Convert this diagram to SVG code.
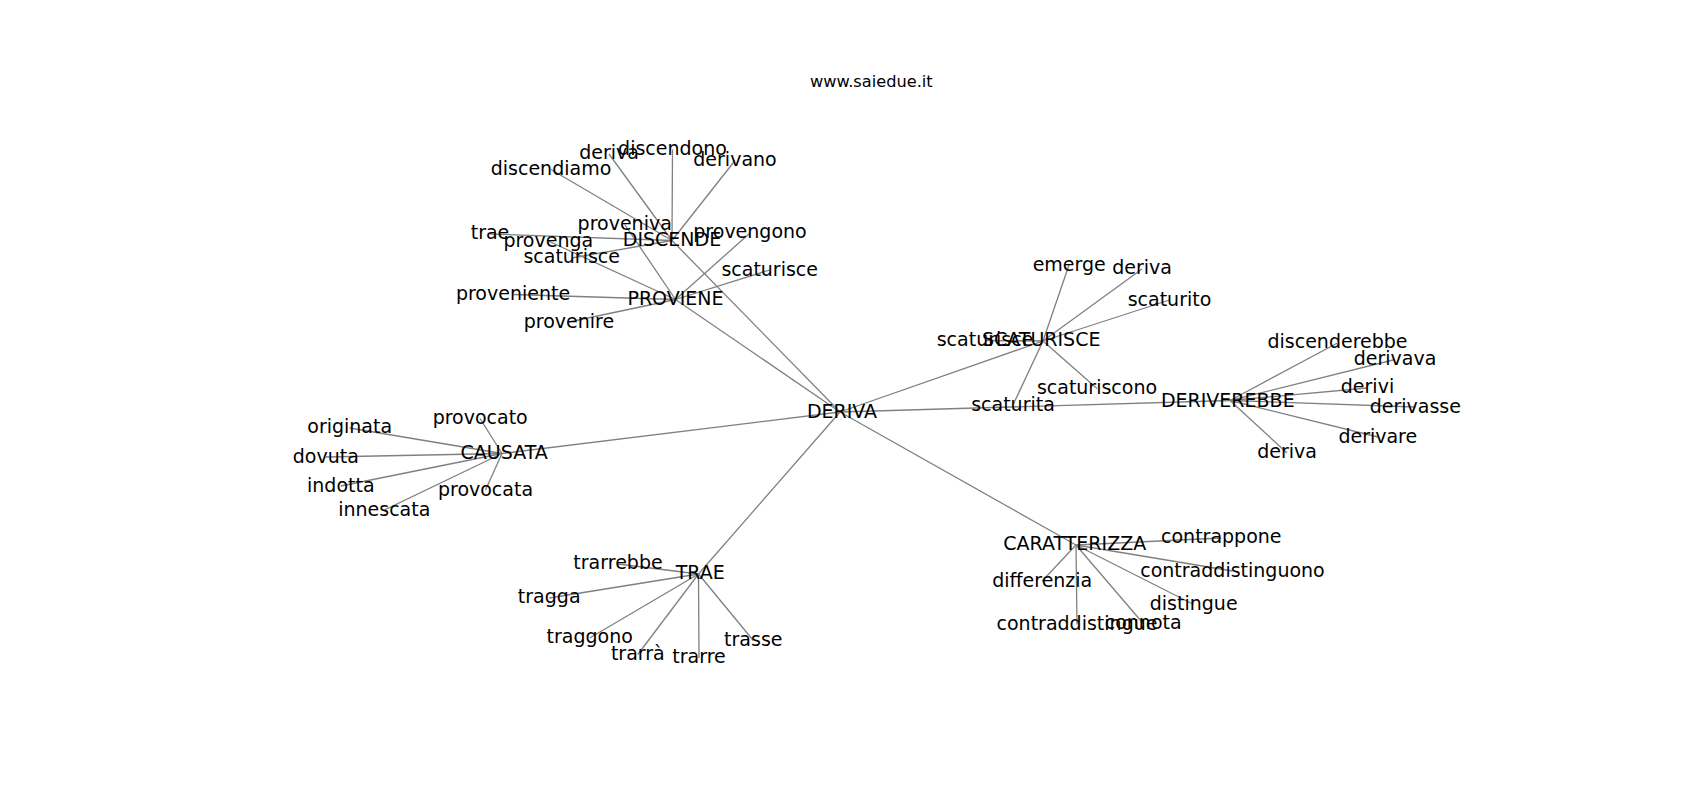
<svg xmlns="http://www.w3.org/2000/svg" width="1700" height="800" viewBox="0 0 1700 800">
<style>
.bg{fill:#ffffff}
.e line{stroke:#808080;stroke-width:1.3;fill:none}
text{font-family:"DejaVu Sans","Liberation Sans",sans-serif;fill:#000000;text-anchor:middle}
.n text{font-size:19px}
.t{font-size:16.2px}
</style>
<rect class="bg" x="0" y="0" width="1700" height="800"/>
<g id="connectors" class="e">
<line x1="840" y1="412" x2="672" y2="240.5"/>
<line x1="840" y1="412" x2="675.5" y2="299.5"/>
<line x1="840" y1="412" x2="502" y2="453.5"/>
<line x1="840" y1="412" x2="698.5" y2="574"/>
<line x1="840" y1="412" x2="1043" y2="341"/>
<line x1="840" y1="412" x2="1230" y2="400.5"/>
<line x1="840" y1="412" x2="1076" y2="545"/>
<line x1="672" y1="240.5" x2="672.5" y2="149.5"/>
<line x1="672" y1="240.5" x2="609" y2="154"/>
<line x1="672" y1="240.5" x2="735" y2="160.5"/>
<line x1="672" y1="240.5" x2="551" y2="169.5"/>
<line x1="672" y1="240.5" x2="490" y2="234"/>
<line x1="672" y1="240.5" x2="571.7" y2="258"/>
<line x1="675.5" y1="299.5" x2="624.7" y2="224.5"/>
<line x1="675.5" y1="299.5" x2="548.3" y2="241"/>
<line x1="675.5" y1="299.5" x2="750" y2="233"/>
<line x1="675.5" y1="299.5" x2="513" y2="294.5"/>
<line x1="675.5" y1="299.5" x2="569" y2="322"/>
<line x1="675.5" y1="299.5" x2="769.7" y2="270"/>
<line x1="502" y1="453.5" x2="480" y2="418.5"/>
<line x1="502" y1="453.5" x2="349.7" y2="428"/>
<line x1="502" y1="453.5" x2="325.8" y2="457"/>
<line x1="502" y1="453.5" x2="340.8" y2="486"/>
<line x1="502" y1="453.5" x2="485.5" y2="490"/>
<line x1="502" y1="453.5" x2="384.3" y2="510"/>
<line x1="698.5" y1="574" x2="618" y2="564"/>
<line x1="698.5" y1="574" x2="549.2" y2="598"/>
<line x1="698.5" y1="574" x2="589.7" y2="638"/>
<line x1="698.5" y1="574" x2="637.8" y2="654.5"/>
<line x1="698.5" y1="574" x2="699" y2="658"/>
<line x1="698.5" y1="574" x2="753.3" y2="640.5"/>
<line x1="1043" y1="341" x2="1069" y2="265"/>
<line x1="1043" y1="341" x2="1142" y2="269"/>
<line x1="1043" y1="341" x2="1169.5" y2="300"/>
<line x1="1043" y1="341" x2="985" y2="340.5"/>
<line x1="1043" y1="341" x2="1097" y2="388.5"/>
<line x1="1043" y1="341" x2="1013" y2="405"/>
<line x1="1230" y1="400.5" x2="1337.5" y2="343"/>
<line x1="1230" y1="400.5" x2="1395" y2="359.5"/>
<line x1="1230" y1="400.5" x2="1367.5" y2="388"/>
<line x1="1230" y1="400.5" x2="1415.3" y2="407"/>
<line x1="1230" y1="400.5" x2="1377.8" y2="437"/>
<line x1="1230" y1="400.5" x2="1287" y2="453"/>
<line x1="1076" y1="545" x2="1221.3" y2="538"/>
<line x1="1076" y1="545" x2="1232.5" y2="571"/>
<line x1="1076" y1="545" x2="1042.2" y2="581"/>
<line x1="1076" y1="545" x2="1193.7" y2="604.5"/>
<line x1="1076" y1="545" x2="1077" y2="624.5"/>
<line x1="1076" y1="545" x2="1143.2" y2="623.5"/>
</g>
<text class="t" x="871.3" y="87.3">www.saiedue.it</text>
<g class="n">
<g id="n-deriva-center"><text x="842" y="418">DERIVA</text></g>
<g id="n-discende"><text x="672" y="246">DISCENDE</text></g>
<g id="n-discendono"><text x="672.5" y="155">discendono</text></g>
<g id="n-deriva-a"><text x="609" y="159.3">deriva</text></g>
<g id="n-derivano"><text x="735" y="166">derivano</text></g>
<g id="n-discendiamo"><text x="551" y="175">discendiamo</text></g>
<g id="n-trae"><text x="490" y="239.3">trae</text></g>
<g id="n-scaturisce-a"><text x="571.7" y="263.3">scaturisce</text></g>
<g id="n-proviene"><text x="675.5" y="305">PROVIENE</text></g>
<g id="n-proveniva"><text x="624.7" y="230">proveniva</text></g>
<g id="n-provenga"><text x="548.3" y="246.7">provenga</text></g>
<g id="n-provengono"><text x="750" y="238.3">provengono</text></g>
<g id="n-proveniente"><text x="513" y="300">proveniente</text></g>
<g id="n-provenire"><text x="569" y="327.7">provenire</text></g>
<g id="n-scaturisce-b"><text x="769.7" y="275.7">scaturisce</text></g>
<g id="n-causata"><text x="504.2" y="459.3">CAUSATA</text></g>
<g id="n-provocato"><text x="480.2" y="424">provocato</text></g>
<g id="n-originata"><text x="349.7" y="433.3">originata</text></g>
<g id="n-dovuta"><text x="325.8" y="462.7">dovuta</text></g>
<g id="n-indotta"><text x="340.8" y="491.7">indotta</text></g>
<g id="n-provocata"><text x="485.5" y="495.7">provocata</text></g>
<g id="n-innescata"><text x="384.3" y="515.7">innescata</text></g>
<g id="n-trae-upper"><text x="700.3" y="579.3">TRAE</text></g>
<g id="n-trarrebbe"><text x="618" y="569.3">trarrebbe</text></g>
<g id="n-tragga"><text x="549.2" y="603.3">tragga</text></g>
<g id="n-traggono"><text x="589.7" y="643.3">traggono</text></g>
<g id="n-trarra"><text x="637.8" y="660">trarrà</text></g>
<g id="n-trarre"><text x="699" y="663.3">trarre</text></g>
<g id="n-trasse"><text x="753.3" y="646">trasse</text></g>
<g id="n-scaturisce-upper"><text x="1041.2" y="346">SCATURISCE</text></g>
<g id="n-emerge"><text x="1069.2" y="270.7">emerge</text></g>
<g id="n-deriva-b"><text x="1142" y="274.3">deriva</text></g>
<g id="n-scaturito"><text x="1169.5" y="305.7">scaturito</text></g>
<g id="n-scaturisce-c"><text x="985" y="346">scaturisce</text></g>
<g id="n-scaturiscono"><text x="1097" y="394">scaturiscono</text></g>
<g id="n-scaturita"><text x="1013" y="410.7">scaturita</text></g>
<g id="n-deriverebbe"><text x="1227.8" y="406.7">DERIVEREBBE</text></g>
<g id="n-discenderebbe"><text x="1337.5" y="348.3">discenderebbe</text></g>
<g id="n-derivava"><text x="1395" y="365">derivava</text></g>
<g id="n-derivi"><text x="1367.5" y="393.3">derivi</text></g>
<g id="n-derivasse"><text x="1415.3" y="412.7">derivasse</text></g>
<g id="n-derivare"><text x="1377.8" y="442.7">derivare</text></g>
<g id="n-deriva-c"><text x="1287" y="458.3">deriva</text></g>
<g id="n-caratterizza"><text x="1074.7" y="550">CARATTERIZZA</text></g>
<g id="n-contrappone"><text x="1221.3" y="543.3">contrappone</text></g>
<g id="n-contraddistinguono"><text x="1232.5" y="576.7">contraddistinguono</text></g>
<g id="n-differenzia"><text x="1042.2" y="586.7">differenzia</text></g>
<g id="n-distingue"><text x="1193.7" y="610">distingue</text></g>
<g id="n-contraddistingue"><text x="1077" y="630">contraddistingue</text></g>
<g id="n-connota"><text x="1143.2" y="629">connota</text></g>
</g>
</svg>
